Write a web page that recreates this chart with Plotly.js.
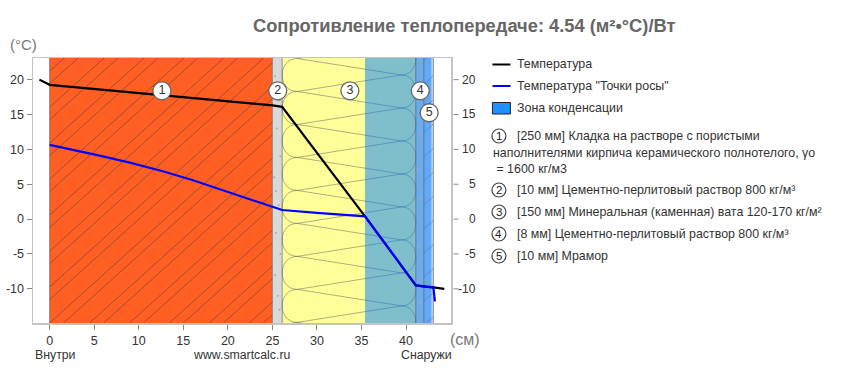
<!DOCTYPE html>
<html><head><meta charset="utf-8"><script src="https://cdn.plot.ly/plotly-3.0.1.min.js"></script>
<style>html,body{margin:0;padding:0;background:#fff}</style></head><body><div id="c" style="width:847px;height:376px"></div>
<script>
const W=847,H=376,L=33,R=451.5,T=58,B=323;
const xRange=[-1.87,45.05], yRange=[-14.9,23.1];
const tempX=[-1.15,0,25,26.1,35.4,41.1,43.07,44.3];
const tempY=[20,19.25,16.3,16.1,0.4,-9.5,-9.8,-10];
const dewX=[0,3,5.6,9,12.6,16,20,22.4,25,26.1,30,35.4,41.1,42,43.07,43.25];
const dewY=[10.65,9.85,9.1,8.1,6.9,5.6,3.9,2.9,1.7,1.3,0.9,0.4,-9.5,-9.7,-9.8,-11.8];
const layerEdges=[0,25,26.1,41.1,42,43.07];
const layerColors=['#FF5F22','#D9D9D9','#FFFF99','#D9D9D9','#C4D2F6'];
const zoneEdges=[35.4,42.85];
const yTicks=[20,15,10,5,0,-5,-10];
const xTicks=[0,5,10,15,20,25,30,35,40];
const badgeX=[12.6,25.6,33.7,41.6,42.6];
const badgeY=[18.4,18.4,18.4,18.4,15.25];
const badgeText=['1','2','3','4','5'];
const speckX=[25.3,25.8,25.5,25.9,25.2,25.7,25.4,25.9,25.3,25.6,25.8,25.4,41.5,41.3,41.7,41.4,41.8,41.6];
const speckY=[20.5,17,13,9,6,2,-2,-5,-8,-11,-13,4,12,7,3,-4,-8,-12];
const noteLines=[
 [516,136,'[250 мм] Кладка на растворе с пористыми'],
 [492,153,'наполнителями кирпича керамического полнотелого, γо'],
 [492,169,' = 1600 кг/м3'],
 [516,190,'[10 мм] Цементно-перлитовый раствор 800 кг/м³'],
 [516,212,'[150 мм] Минеральная (каменная) вата 120-170 кг/м²'],
 [516,234,'[8 мм] Цементно-перлитовый раствор 800 кг/м³'],
 [516,256,'[10 мм] Мрамор']];
const noteBadgeY=[136,190,212,234,256];

const px=v=>(v-L)/(R-L), py=v=>(B-v)/(B-T);
const shapes=[], ann=[];
layerColors.forEach((c,i)=>shapes.push({type:'rect',xref:'x',yref:'y',x0:layerEdges[i],x1:layerEdges[i+1],y0:yRange[0],y1:yRange[1],fillcolor:c,line:{width:0},layer:'below'}));
function hatch(x0,x1,offs,period,color){
 const s=1.152;
 for(let n=-40;n<20;n++)for(const o of offs){
  const b=x0+n*period+o;
  let xa=b,ya=yRange[0],xb=b+(yRange[1]-yRange[0])/s,yb=yRange[1];
  if(xa<x0){ya+=(x0-xa)*s;xa=x0}
  if(xb>x1){yb-=(xb-x1)*s;xb=x1}
  if(xa>=xb)continue;
  shapes.push({type:'line',xref:'x',yref:'y',x0:xa,x1:xb,y0:ya,y1:yb,line:{color,width:1},layer:'below'});
 }
}
hatch(0,25,[0,1.57],4.48,'rgba(70,60,60,0.5)');
hatch(42,43.07,[0.3],3.0,'rgba(70,90,120,0.4)');
const wL=27.8,wR=39.5,wLx=26.1,wRx=41.1,step=4.73;
for(let k=-1;k<8;k++){
 const y=18.3-step*k,y2=y-step;
 const cl=wL+(wLx-wL)*4/3, cr=wR+(wRx-wR)*4/3;
 const g={type:'path',xref:'x',yref:'y',line:{color:'rgba(95,95,95,0.5)',width:1},layer:'below'};
 shapes.push(Object.assign({},g,{path:`M${wL},${y} C${cl},${y} ${cl},${y2} ${wL},${y2}`}));
 shapes.push(Object.assign({},g,{path:`M${wR},${y+step/2} C${cr},${y+step/2} ${cr},${y2+step/2} ${wR},${y2+step/2}`}));
 shapes.push(Object.assign({},g,{path:`M${wL},${y} L${wR},${y+step/2} M${wL},${y} L${wR},${y-step/2}`}));
}
shapes.push({type:'rect',xref:'x',yref:'y',x0:zoneEdges[0],x1:zoneEdges[1],y0:yRange[0],y1:yRange[1],fillcolor:'rgba(0,127,255,0.5)',line:{width:0},layer:'below'});
layerEdges.forEach(e=>shapes.push({type:'line',xref:'x',yref:'y',x0:e,x1:e,y0:yRange[0],y1:yRange[1],line:{color:'rgba(85,85,85,0.6)',width:1},layer:'below'}));
yTicks.forEach(t=>{
 shapes.push({type:'line',xref:'paper',yref:'y',x0:px(454),x1:px(459),y0:t,y1:t,line:{color:'#888',width:1}});
 ann.push({xref:'paper',yref:'y',x:px(479),y:t,text:String(t),showarrow:false,xanchor:'right',yanchor:'middle',font:{size:12,color:'#333'}});
});
const tx=(x,y,text,size,color,extra)=>ann.push(Object.assign({xref:'paper',yref:'paper',x:px(x),y:py(y),text,showarrow:false,xanchor:'left',yanchor:'middle',font:{size,color}},extra||{}));
tx(465,25,'<b>Сопротивление теплопередаче: 4.54 (м²•°С)/Вт</b>',18.3,'#666',{xanchor:'center'});
tx(8,44,'(°C)',15,'#777');
tx(448,339,'(см)',16,'#777');
tx(33,355,'Внутри',12.3,'#333');
tx(191,355,'www.smartcalc.ru',12.3,'#333');
tx(399,355,'Снаружи',12.3,'#333');
shapes.push({type:'line',xref:'paper',yref:'paper',x0:px(493),x1:px(511),y0:py(64.5),y1:py(64.5),line:{color:'#000',width:2}});
shapes.push({type:'line',xref:'paper',yref:'paper',x0:px(493),x1:px(511),y0:py(86),y1:py(86),line:{color:'#0000ff',width:2}});
shapes.push({type:'rect',xref:'paper',yref:'paper',x0:px(493),x1:px(511),y0:py(102.5),y1:py(114),fillcolor:'#1E90FF',line:{color:'#222',width:1}});
tx(516,64,'Температура',12.4,'#333');
tx(516,86,'Температура "Точки росы"',12.4,'#333');
tx(516,108,'Зона конденсации',12.4,'#333');
noteLines.forEach(n=>tx(n[0],n[1],n[2],12.4,'#333'));
noteBadgeY.forEach((y,i)=>{
 shapes.push({type:'circle',xref:'paper',yref:'paper',x0:px(492.5),x1:px(506.5),y0:py(y-7),y1:py(y+7),fillcolor:'#fff',line:{color:'#444',width:1.2}});
 tx(499.5,y,badgeText[i],11.5,'#222',{xanchor:'center'});
});
const traces=[
 {x:speckX,y:speckY,mode:'markers',marker:{size:2,color:'#aaa'},hoverinfo:'skip'},
 {x:tempX,y:tempY,mode:'lines',line:{color:'#000',width:2.2},name:'Температура'},
 {x:dewX,y:dewY,mode:'lines',line:{color:'#0000ff',width:2.2},name:'Температура "Точки росы"'},
 {x:badgeX,y:badgeY,mode:'markers+text',text:badgeText,textposition:'middle center',textfont:{size:12.5,color:'#333'},
  marker:{size:18,color:'#fff',line:{color:'#666',width:1.3}},hoverinfo:'skip'}
];
const axis={zeroline:false,showgrid:false,showline:true,linecolor:'#c4c4c4',linewidth:1.5,mirror:true,ticks:'outside',ticklen:5,tickcolor:'#888',tickwidth:1,tickfont:{family:'Liberation Sans',size:12.5,color:'#333'}};
Plotly.newPlot('c',traces,{
 width:W,height:H,autosize:false,showlegend:false,paper_bgcolor:'#fff',plot_bgcolor:'#fff',
 font:{family:'Liberation Sans, Arial, sans-serif'},
 margin:{l:L,r:W-R,t:T,b:H-B,pad:0},
 xaxis:Object.assign({},axis,{range:xRange,tickvals:xTicks,ticktext:xTicks.map(String)}),
 yaxis:Object.assign({},axis,{range:yRange,tickvals:yTicks,ticktext:yTicks.map(String)}),
 shapes,annotations:ann
},{displayModeBar:false,staticPlot:true});
</script></body></html>
